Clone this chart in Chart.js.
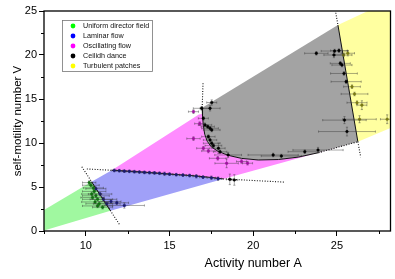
<!DOCTYPE html>
<html><head><meta charset="utf-8">
<script src="https://cdn.jsdelivr.net/npm/chart.js@4/dist/chart.umd.min.js"></script>
<style>html,body{margin:0;padding:0;background:#fff;overflow:hidden;}#wrap{width:395px;height:279px;position:relative;}canvas{display:block;}</style>
</head><body><div id="wrap"><canvas id="c" width="395" height="279" style="width:395px;height:279px"></canvas></div>
<script>
// ---- axis ticks ----
const xTicks = [10, 15, 20, 25];
const yTicks = [0, 5, 10, 15, 20, 25];
const xMinor = [7.5, 12.5, 17.5, 22.5, 27.5];
const yMinor = [2.5, 7.5, 12.5, 17.5, 22.5];
const xTitle = 'Activity number A';
const yTitle = 'self-motility number V';

// ---- legend ----
const legendLabels = ['Uniform director field', 'Laminar flow', 'Oscillating flow', 'Ceilidh dance', 'Turbulent patches'];
const legendColors = ['#00ff00', '#0000ff', '#ff00ff', '#000000', '#ffff00'];

// ---- phase regions [A, V] ----
const regionUniform = [[7.5,0.05],[11.47,2.3],[10.34,5.6],[7.5,2.4]];
const regionLaminar = [[10.34,5.6],[11.47,2.3],[18.2,5.92],[17.5,6.08],[16.5,6.27],[15,6.47],[13,6.75],[11.55,6.9]];
const regionOscillating = [[11.55,6.9],[16.75,13.25],[16.96,13.3],[16.97,13.0],[17.02,12.0],[17.1,11.0],[17.25,10.2],[17.5,9.55],[17.9,9.05],[18.5,8.6],[19.3,8.25],[20.3,8.07],[21.5,8.12],[22.7,8.4],[23.9,8.9],[26.25,10.15],[18.2,5.92],[17.5,6.08],[16.5,6.27],[15,6.47],[13,6.75]];
const regionCeilidh = [[16.95,14.0],[25.06,23.4],[26.25,10.15],[23.9,8.9],[22.7,8.4],[21.5,8.12],[20.3,8.07],[19.3,8.25],[18.5,8.6],[17.9,9.05],[17.5,9.55],[17.25,10.2],[17.1,11.0],[17.02,12.0],[16.97,13.0]];
const regionTurbulent = [[25.06,23.4],[26.85,25],[28.2,25],[28.2,11.7],[26.25,10.15]];

// ---- boundary lines ----
const solidBoundaries = [
  [[10.34,5.6],[11.47,2.3]],
  [[11.55,6.9],[13,6.75],[15,6.47],[16.5,6.27],[17.5,6.08],[18.2,5.92]],
  [[16.95,14.0],[16.97,13.0],[17.02,12.0],[17.1,11.0],[17.25,10.2],[17.5,9.55],[17.9,9.05],[18.5,8.6],[19.3,8.25],[20.3,8.07],[21.5,8.12],[22.7,8.4],[23.9,8.9]],
  [[25.06,23.4],[26.25,10.15]]
];
const dottedBoundaries = [
  [[9.76,7.3],[12.02,0.7]],
  [[10.06,7.05],[11.55,6.9]],
  [[18.2,5.92],[21.9,5.55]],
  [[17.0,16.8],[16.95,14.0]],
  [[23.9,8.9],[26.25,10.15]],
  [[24.93,24.8],[25.06,23.4]],
  [[26.25,10.15],[26.42,8.4]]
];

// ---- measured points: A, V, error in A, error in V ----
const uniformA    = [10.2, 10.3, 10.45, 10.5, 10.35, 10.6, 10.4, 10.7, 10.55, 10.8, 10.7, 11.0];
const uniformV    = [5.5, 5.2, 4.9, 4.5, 4.2, 4.0, 3.8, 3.6, 3.3, 3.1, 2.85, 2.7];
const uniformErrA = [0.4, 0.5, 0.6, 0.7, 0.6, 0.8, 0.7, 0.9, 0.8, 0.8, 0.9, 0.6];
const uniformErrV = [0.2, 0.2, 0.2, 0.2, 0.2, 0.2, 0.2, 0.2, 0.2, 0.25, 0.2, 0.2];

const laminarA    = [10.6, 10.85, 11.05, 11.25, 11.5, 11.85, 12.3, 11.7, 12.0, 12.3, 12.6, 12.9, 13.2, 13.5, 13.8, 14.1, 14.4, 14.7, 15.0, 15.4, 15.8, 16.2, 16.6, 17.0, 17.5, 17.9];
const laminarV    = [4.8, 4.2, 3.6, 3.1, 3.35, 3.2, 2.9, 6.88, 6.85, 6.8, 6.78, 6.74, 6.7, 6.66, 6.63, 6.6, 6.56, 6.5, 6.46, 6.4, 6.35, 6.3, 6.22, 6.12, 6.05, 5.95];
const laminarErrA = [0.6, 0.7, 0.8, 0.8, 0.6, 0.7, 1.2, 0.15, 0.2, 0.15, 0.2, 0.15, 0.2, 0.15, 0.2, 0.15, 0.2, 0.2, 0.2, 0.2, 0.2, 0.2, 0.2, 0.2, 0.25, 0.2];
const laminarErrV = [0.2, 0.2, 0.2, 0.2, 0.2, 0.2, 0.3, 0.15, 0.15, 0.15, 0.15, 0.15, 0.15, 0.15, 0.15, 0.15, 0.15, 0.2, 0.15, 0.15, 0.15, 0.15, 0.2, 0.15, 0.2, 0.2];

const oscillatingA    = [16.43, 16.43, 16.8, 17.02, 17.32, 17.88, 18.41, 19.3, 19.66];
const oscillatingV    = [13.56, 10.5, 12.2, 9.4, 9.09, 8.26, 7.69, 7.9, 7.7];
const oscillatingErrA = [0.3, 0.4, 0.3, 0.4, 0.4, 0.5, 0.7, 0.3, 0.3];
const oscillatingErrV = [0.2, 0.2, 0.2, 0.2, 0.2, 0.2, 0.5, 0.2, 0.2];

const ceilidhA    = [16.92, 17.42, 17.52, 17.02, 17.12, 17.28, 17.42, 17.52, 17.32, 17.42, 17.52, 17.62, 17.92, 18.02, 18.5, 18.6, 18.87, 21.19, 21.68, 23.08, 23.87, 23.77, 24.86, 25.12, 24.82, 25.2, 25.3, 25.42, 25.55, 25.45, 25.6];
const ceilidhV    = [13.94, 13.94, 14.6, 12.8, 12.05, 11.86, 11.67, 11.48, 10.72, 10.34, 9.97, 9.7, 9.4, 9.0, 8.64, 5.87, 5.8, 8.64, 8.52, 9.01, 9.2, 20.19, 20.45, 20.5, 20.0, 19.05, 18.86, 17.9, 16.97, 12.6, 11.3];
const ceilidhErrA = [0.5, 0.6, 0.3, 0.3, 0.4, 0.4, 0.5, 0.5, 0.4, 0.4, 0.5, 0.5, 0.4, 0.4, 0.8, 0.2, 0.2, 1.5, 1.2, 1.0, 1.5, 0.7, 0.8, 0.5, 0.6, 0.6, 0.6, 0.8, 0.9, 1.3, 1.7];
const ceilidhErrV = [0.2, 0.3, 0.3, 0.2, 0.2, 0.2, 0.2, 0.2, 0.2, 0.2, 0.2, 0.2, 0.6, 0.2, 0.3, 0.6, 0.6, 0.2, 0.2, 0.2, 0.3, 0.2, 0.2, 0.2, 0.3, 0.2, 0.2, 0.2, 0.2, 0.4, 0.5];

const turbulentA    = [25.65, 25.4, 25.9, 26.05, 26.2, 26.49, 26.35, 28.0];
const turbulentV    = [20.2, 20.0, 16.4, 15.57, 14.58, 14.3, 12.7, 12.7];
const turbulentErrA = [0.4, 0.5, 0.5, 0.8, 0.6, 0.3, 1.0, 0.4];
const turbulentErrV = [0.3, 0.2, 0.2, 0.2, 0.2, 0.5, 0.4, 0.5];

// ---- build datasets ----
const toXY = pts => pts.map(p => ({x: p[0], y: p[1]}));
const zipXY = (a, v) => a.map((x, i) => ({x, y: v[i]}));

const datasets = [];
const regions = [
  [regionUniform, '#a0f8a0'],
  [regionLaminar, '#a0a0f8'],
  [regionOscillating, '#ff8cff'],
  [regionCeilidh, '#a3a3a3'],
  [regionTurbulent, '#ffffa0']
];
regions.forEach(([pts, col]) => datasets.push({
  data: toXY(pts), showLine: true, fill: 'shape', backgroundColor: col,
  borderWidth: 0, borderColor: 'rgba(0,0,0,0)', pointRadius: 0, order: 20, tension: 0
}));
solidBoundaries.forEach(pts => datasets.push({
  data: toXY(pts), showLine: true, fill: false, borderColor: '#111', borderWidth: 1,
  pointRadius: 0, order: 10, tension: 0
}));
dottedBoundaries.forEach(pts => datasets.push({
  data: toXY(pts), showLine: true, fill: false, borderColor: '#111', borderWidth: 1.1,
  borderDash: [1, 1.6], pointRadius: 0, order: 10, tension: 0
}));
const pointSets = [
  [uniformA, uniformV, uniformErrA, uniformErrV, '#107010'],
  [laminarA, laminarV, laminarErrA, laminarErrV, '#1a1a70'],
  [oscillatingA, oscillatingV, oscillatingErrA, oscillatingErrV, '#a010a0'],
  [ceilidhA, ceilidhV, ceilidhErrA, ceilidhErrV, '#000000'],
  [turbulentA, turbulentV, turbulentErrA, turbulentErrV, '#7a7a10']
];
pointSets.forEach(([a, v, ea, ev, col]) => datasets.push({
  data: zipXY(a, v), errA: ea, errV: ev, showLine: false,
  pointRadius: 1.3, pointBackgroundColor: col, pointBorderColor: col, pointBorderWidth: 0.5, order: 1
}));

// ---- plugins ----
const errorBars = {
  id: 'errorBars',
  beforeDatasetDraw(chart, args) {
    const ds = chart.data.datasets[args.index];
    if (!ds.errA) return;
    const xs = chart.scales.x, ys = chart.scales.y, ctx = chart.ctx, a = chart.chartArea;
    ctx.save();
    ctx.beginPath(); ctx.rect(a.left, a.top, a.right - a.left, a.bottom - a.top); ctx.clip();
    ctx.strokeStyle = 'rgba(50,50,50,0.7)'; ctx.lineWidth = 0.6;
    ds.data.forEach((p, i) => {
      const px = xs.getPixelForValue(p.x), py = ys.getPixelForValue(p.y);
      const x1 = xs.getPixelForValue(p.x - ds.errA[i]), x2 = xs.getPixelForValue(p.x + ds.errA[i]);
      const y1 = ys.getPixelForValue(p.y - ds.errV[i]), y2 = ys.getPixelForValue(p.y + ds.errV[i]);
      ctx.beginPath();
      ctx.moveTo(x1, py); ctx.lineTo(x2, py);
      ctx.moveTo(px, y1); ctx.lineTo(px, y2);
      ctx.moveTo(x1, py - 1.1); ctx.lineTo(x1, py + 1.1);
      ctx.moveTo(x2, py - 1.1); ctx.lineTo(x2, py + 1.1);
      ctx.moveTo(px - 1.1, y1); ctx.lineTo(px + 1.1, y1);
      ctx.moveTo(px - 1.1, y2); ctx.lineTo(px + 1.1, y2);
      ctx.stroke();
    });
    ctx.restore();
  }
};

const decor = {
  id: 'decor',
  afterDraw(chart) {
    const ctx = chart.ctx, a = chart.chartArea, xs = chart.scales.x, ys = chart.scales.y;
    ctx.save();
    // frame
    ctx.strokeStyle = '#000'; ctx.lineWidth = 1.3;
    ctx.strokeRect(a.left, a.top, a.right - a.left, a.bottom - a.top);
    // minor ticks
    ctx.lineWidth = 1;
    ctx.beginPath();
    xMinor.forEach(v => { const x = Math.round(xs.getPixelForValue(v)) + 0.5; ctx.moveTo(x, a.bottom); ctx.lineTo(x, a.bottom + 3); });
    yMinor.forEach(v => { const y = Math.round(ys.getPixelForValue(v)) + 0.5; ctx.moveTo(a.left, y); ctx.lineTo(a.left - 3, y); });
    ctx.stroke();
    // axis titles
    ctx.fillStyle = '#000';
    ctx.font = '12.5px "Liberation Sans", Arial, sans-serif';
    ctx.textAlign = 'center'; ctx.textBaseline = 'middle';
    ctx.fillText(xTitle, xs.getPixelForValue(20), 264);
    ctx.save();
    ctx.translate(18, (a.top + a.bottom) / 2);
    ctx.rotate(-Math.PI / 2);
    ctx.font = '11.5px "Liberation Sans", Arial, sans-serif';
    ctx.fillText(yTitle, 0, 0);
    ctx.restore();
    // legend
    const lx = 62, ly = 20, lw = 90, lh = 51;
    ctx.fillStyle = '#fff';
    ctx.fillRect(lx, ly, lw, lh);
    ctx.strokeStyle = '#777'; ctx.lineWidth = 0.8;
    ctx.strokeRect(lx + 0.5, ly + 0.5, lw, lh);
    ctx.font = '7.2px "Liberation Sans", Arial, sans-serif';
    ctx.textAlign = 'left';
    legendLabels.forEach((t, i) => {
      const y = ly + 6 + i * 10;
      ctx.fillStyle = legendColors[i];
      ctx.beginPath(); ctx.arc(73, y, 2.4, 0, Math.PI * 2); ctx.fill();
      ctx.fillStyle = '#111';
      ctx.fillText(t, 83, y + 0.5);
    });
    ctx.restore();
  }
};

const tickFont = {family: '"Liberation Sans", Arial, sans-serif', size: 11};
new Chart(document.getElementById('c'), {
  type: 'scatter',
  data: {datasets},
  options: {
    responsive: false, animation: false, devicePixelRatio: 1,
    layout: {padding: {left: 0, right: 2, top: 11, bottom: 0}},
    plugins: {legend: {display: false}, tooltip: {enabled: false}},
    scales: {
      x: {
        type: 'linear', min: 7.5, max: 28.2,
        afterBuildTicks: s => { s.ticks = xTicks.map(v => ({value: v})); },
        afterFit: s => { s.height = 48; },
        ticks: {font: tickFont, color: '#000', padding: 3, maxRotation: 0},
        grid: {drawOnChartArea: false, drawTicks: true, tickLength: 5, color: '#000', lineWidth: 1},
        border: {display: false}
      },
      y: {
        type: 'linear', min: 0, max: 25,
        afterBuildTicks: s => { s.ticks = yTicks.map(v => ({value: v})); },
        afterFit: s => { s.width = 44; },
        ticks: {font: tickFont, color: '#000', padding: 2},
        grid: {drawOnChartArea: false, drawTicks: true, tickLength: 5, color: '#000', lineWidth: 1},
        border: {display: false}
      }
    }
  },
  plugins: [errorBars, decor]
});
</script>
</body></html>
